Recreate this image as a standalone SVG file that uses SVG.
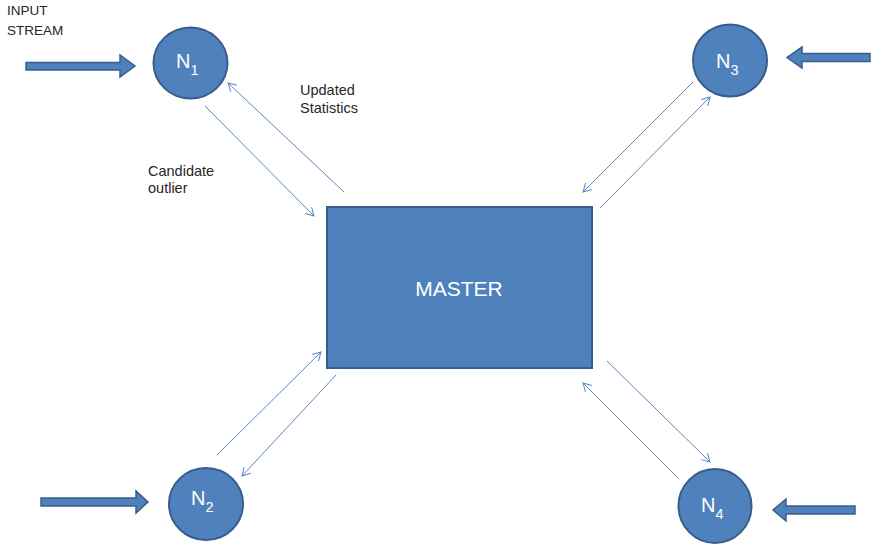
<svg xmlns="http://www.w3.org/2000/svg" width="872" height="545" viewBox="0 0 872 545">
  <defs>
    <style>
      .node { fill: #4F81BD; stroke: #385D8A; stroke-width: 2; }
      .block { fill: #4F81BD; stroke: #385D8A; stroke-width: 1.5; stroke-linejoin: miter; }
      .link { fill: none; stroke: #5B87C2; stroke-width: 1; }
      .lbl { font-family: "Liberation Sans", Arial, sans-serif; font-size: 14.5px; fill: #262626; }
      .nlbl { font-family: "Liberation Sans", Arial, sans-serif; font-size: 20px; fill: #FFFFFF; }
      .sub { font-size: 14.5px; }
      .master { font-family: "Liberation Sans", Arial, sans-serif; font-size: 21px; fill: #FFFFFF; text-anchor: middle; }
    </style>
    <marker id="open" markerUnits="userSpaceOnUse" markerWidth="12" markerHeight="12" refX="9" refY="5" orient="auto">
      <path d="M1,0.5 L9,5 L1,9.5" fill="none" stroke="#5B87C2" stroke-width="1"/>
    </marker>
  </defs>
  <rect width="872" height="545" fill="#FFFFFF"/>

  <!-- free labels -->
  <g id="labels">
    <text class="lbl" x="7" y="15" style="font-size:13.5px">INPUT</text>
    <text class="lbl" x="7" y="35" style="font-size:13.5px">STREAM</text>
    <text class="lbl" x="300" y="95">Updated</text>
    <text class="lbl" x="300" y="113">Statistics</text>
    <text class="lbl" x="148" y="176">Candidate</text>
    <text class="lbl" x="148" y="193">outlier</text>
  </g>

  <!-- thin message connectors between workers and master -->
  <g id="connectors">
    <line class="link" x1="205" y1="106" x2="314" y2="216" marker-end="url(#open)"/>
    <line class="link" x1="344" y1="192" x2="228" y2="83" marker-end="url(#open)"/>
    <line class="link" x1="693" y1="82" x2="583" y2="192" marker-end="url(#open)"/>
    <line class="link" x1="600" y1="208" x2="710" y2="97" marker-end="url(#open)"/>
    <line class="link" x1="217" y1="455" x2="321" y2="352" marker-end="url(#open)"/>
    <line class="link" x1="336" y1="375" x2="242" y2="476" marker-end="url(#open)"/>
    <line class="link" x1="607" y1="361" x2="710" y2="462" marker-end="url(#open)"/>
    <line class="link" x1="678" y1="478" x2="583" y2="383" marker-end="url(#open)"/>
  </g>

  <!-- input stream block arrows -->
  <g id="inputs">
    <path class="block" d="M26,62.5 H120 V55 L135,66 L120,77 V70 H26 Z"/>
    <path class="block" d="M41,498 H136 V491 L148,502 L136,513 V506 H41 Z"/>
    <path class="block" d="M870,53.5 H802 V47 L787,57.5 L802,68 V61.5 H870 Z"/>
    <path class="block" d="M855,506 H786 V499 L773,510 L786,521 V514 H855 Z"/>
  </g>

  <g id="master">
    <rect class="node" x="327" y="207" width="265" height="161"/>
    <text class="master" x="459" y="296">MASTER</text>
  </g>

  <g id="n1">
    <ellipse class="node" cx="190.5" cy="63" rx="37" ry="35.5"/>
    <text class="nlbl" x="176" y="68">N<tspan class="sub" dy="7">1</tspan></text>
  </g>

  <g id="n2">
    <ellipse class="node" cx="206" cy="504" rx="37" ry="36"/>
    <text class="nlbl" x="191" y="505">N<tspan class="sub" dy="7">2</tspan></text>
  </g>

  <g id="n3">
    <ellipse class="node" cx="730" cy="60.5" rx="37" ry="36"/>
    <text class="nlbl" x="716" y="68">N<tspan class="sub" dy="7">3</tspan></text>
  </g>

  <g id="n4">
    <ellipse class="node" cx="715" cy="506" rx="36.5" ry="37"/>
    <text class="nlbl" x="701" y="512">N<tspan class="sub" dy="7">4</tspan></text>
  </g>
</svg>
